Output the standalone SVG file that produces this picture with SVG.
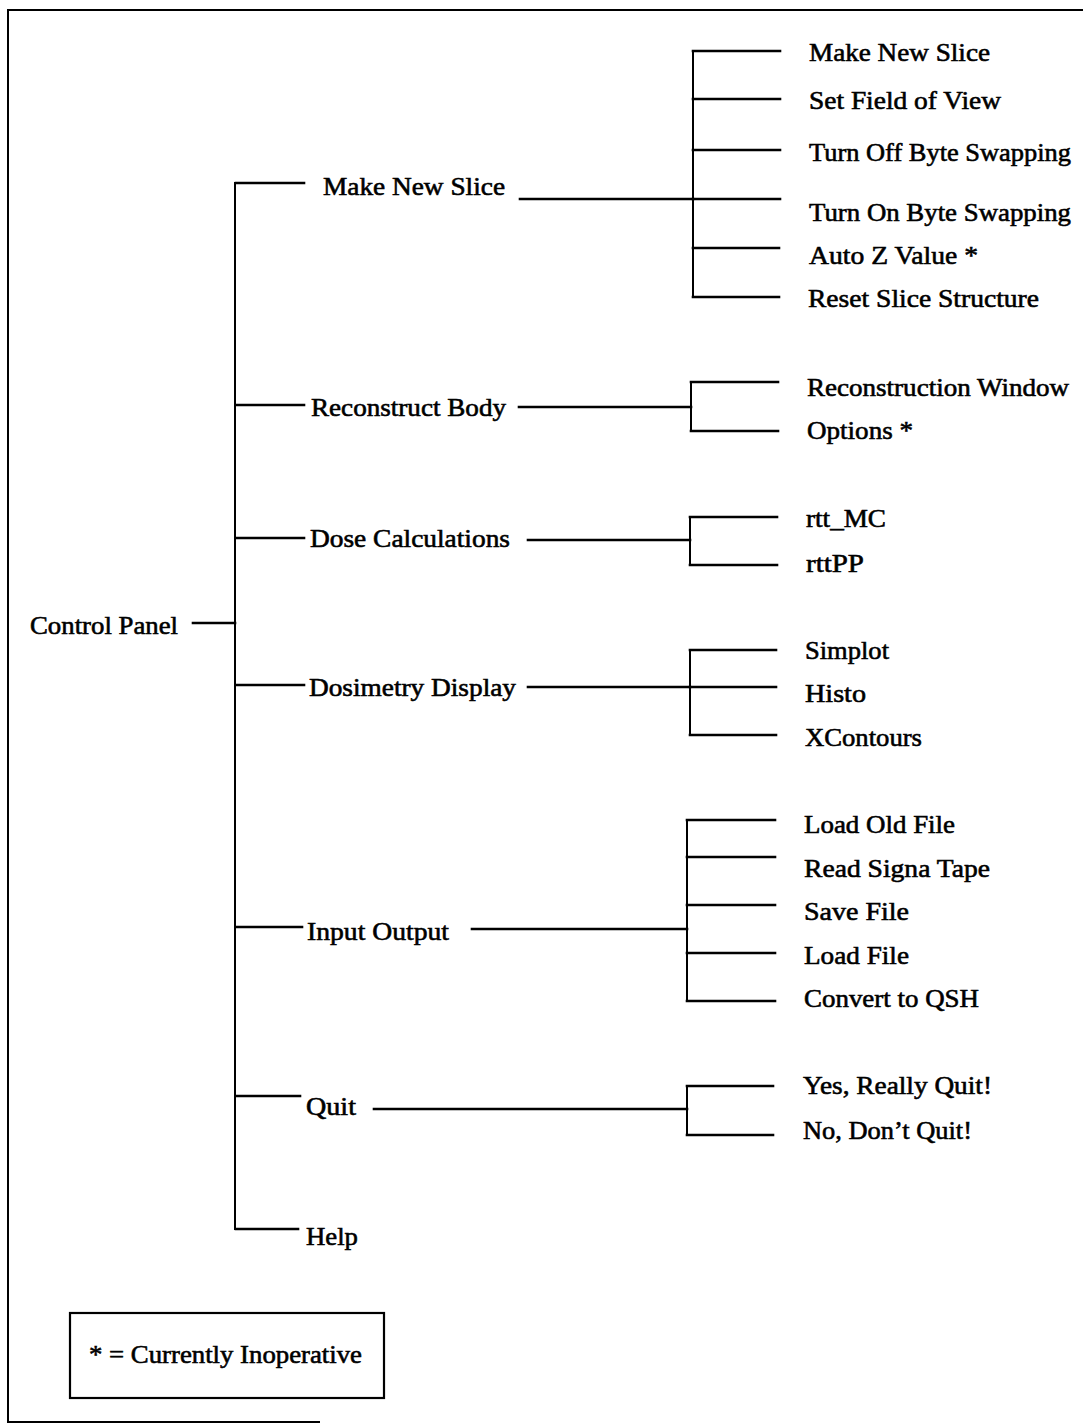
<svg xmlns="http://www.w3.org/2000/svg" width="1083" height="1425" viewBox="0 0 1083 1425">
<style>
  .t { font-family: "Liberation Serif", "Times New Roman", serif; font-size: 26px; fill: #000; stroke: #000; stroke-width: 0.6px; }
  .c line { stroke: #000; stroke-width: 2.6; stroke-linecap: square; }
  .c line.thin { stroke-width: 2; }
  .frame { stroke: #000; stroke-width: 2; fill: none; }
</style>
<rect x="0" y="0" width="1083" height="1425" fill="#fff"/>
<g id="frame">
  <polyline class="frame" points="1083,10 8,10 8,1422 320,1422"/>
</g>
<g id="connectors" class="c">
  <!-- main trunk -->
  <line class="thin" x1="235" y1="183" x2="235" y2="1229"/>
  <line x1="193" y1="623" x2="235" y2="623"/>
  <line x1="236" y1="183" x2="304" y2="183"/>
  <line x1="236" y1="405" x2="304" y2="405"/>
  <line x1="236" y1="538" x2="304" y2="538"/>
  <line x1="236" y1="685" x2="304" y2="685"/>
  <line x1="236" y1="927" x2="302" y2="927"/>
  <line x1="236" y1="1096" x2="300" y2="1096"/>
  <line x1="236" y1="1229" x2="298" y2="1229"/>
  <!-- Make New Slice -->
  <line x1="520" y1="199" x2="693" y2="199"/>
  <line class="thin" x1="693" y1="51" x2="693" y2="297"/>
  <line x1="693" y1="51" x2="780" y2="51"/>
  <line x1="693" y1="99" x2="780" y2="99"/>
  <line x1="693" y1="150" x2="780" y2="150"/>
  <line x1="693" y1="199" x2="780" y2="199"/>
  <line x1="693" y1="248" x2="779" y2="248"/>
  <line x1="693" y1="297" x2="779" y2="297"/>
  <!-- Reconstruct Body -->
  <line x1="519" y1="407" x2="691" y2="407"/>
  <line class="thin" x1="691" y1="382" x2="691" y2="431"/>
  <line x1="691" y1="382" x2="778" y2="382"/>
  <line x1="691" y1="431" x2="778" y2="431"/>
  <!-- Dose Calculations -->
  <line x1="528" y1="540" x2="690" y2="540"/>
  <line class="thin" x1="690" y1="517" x2="690" y2="565"/>
  <line x1="690" y1="517" x2="777" y2="517"/>
  <line x1="690" y1="565" x2="777" y2="565"/>
  <!-- Dosimetry Display -->
  <line x1="528" y1="687" x2="690" y2="687"/>
  <line class="thin" x1="690" y1="650" x2="690" y2="735"/>
  <line x1="690" y1="650" x2="776" y2="650"/>
  <line x1="690" y1="687" x2="776" y2="687"/>
  <line x1="690" y1="735" x2="776" y2="735"/>
  <!-- Input Output -->
  <line x1="472" y1="929" x2="687" y2="929"/>
  <line class="thin" x1="687" y1="820" x2="687" y2="1001"/>
  <line x1="687" y1="820" x2="775" y2="820"/>
  <line x1="687" y1="857" x2="775" y2="857"/>
  <line x1="687" y1="905" x2="775" y2="905"/>
  <line x1="687" y1="953" x2="775" y2="953"/>
  <line x1="687" y1="1001" x2="775" y2="1001"/>
  <!-- Quit -->
  <line x1="374" y1="1109" x2="687" y2="1109"/>
  <line class="thin" x1="687" y1="1086" x2="687" y2="1135"/>
  <line x1="687" y1="1086" x2="773" y2="1086"/>
  <line x1="687" y1="1135" x2="773" y2="1135"/>
</g>
<g id="control-panel"><text class="t" x="30" y="634" textLength="148" lengthAdjust="spacingAndGlyphs">Control Panel</text></g>
<g id="make-new-slice"><text class="t" x="323" y="195" textLength="182" lengthAdjust="spacingAndGlyphs">Make New Slice</text></g>
<g id="reconstruct-body"><text class="t" x="311" y="416" textLength="195" lengthAdjust="spacingAndGlyphs">Reconstruct Body</text></g>
<g id="dose-calculations"><text class="t" x="310" y="547" textLength="200" lengthAdjust="spacingAndGlyphs">Dose Calculations</text></g>
<g id="dosimetry-display"><text class="t" x="309" y="696" textLength="207" lengthAdjust="spacingAndGlyphs">Dosimetry Display</text></g>
<g id="input-output"><text class="t" x="307" y="940" textLength="142" lengthAdjust="spacingAndGlyphs">Input Output</text></g>
<g id="quit"><text class="t" x="306" y="1115" textLength="50" lengthAdjust="spacingAndGlyphs">Quit</text></g>
<g id="help"><text class="t" x="306" y="1245" textLength="52" lengthAdjust="spacingAndGlyphs">Help</text></g>

<g id="mns-make-new-slice"><text class="t" x="809" y="61" textLength="181" lengthAdjust="spacingAndGlyphs">Make New Slice</text></g>
<g id="set-field-of-view"><text class="t" x="809" y="109" textLength="192" lengthAdjust="spacingAndGlyphs">Set Field of View</text></g>
<g id="turn-off-byte-swapping"><text class="t" x="809" y="161" textLength="262" lengthAdjust="spacingAndGlyphs">Turn Off Byte Swapping</text></g>
<g id="turn-on-byte-swapping"><text class="t" x="809" y="221" textLength="262" lengthAdjust="spacingAndGlyphs">Turn On Byte Swapping</text></g>
<g id="auto-z-value"><text class="t" x="809" y="264" textLength="169" lengthAdjust="spacingAndGlyphs">Auto Z Value *</text></g>
<g id="reset-slice-structure"><text class="t" x="808" y="307" textLength="231" lengthAdjust="spacingAndGlyphs">Reset Slice Structure</text></g>

<g id="reconstruction-window"><text class="t" x="807" y="396" textLength="262" lengthAdjust="spacingAndGlyphs">Reconstruction Window</text></g>
<g id="options"><text class="t" x="807" y="439" textLength="106" lengthAdjust="spacingAndGlyphs">Options *</text></g>

<g id="rtt-mc"><text class="t" x="806" y="527" textLength="80" lengthAdjust="spacingAndGlyphs">rtt_MC</text></g>
<g id="rttpp"><text class="t" x="806" y="572" textLength="58" lengthAdjust="spacingAndGlyphs">rttPP</text></g>

<g id="simplot"><text class="t" x="805" y="659" textLength="84" lengthAdjust="spacingAndGlyphs">Simplot</text></g>
<g id="histo"><text class="t" x="805" y="702" textLength="61" lengthAdjust="spacingAndGlyphs">Histo</text></g>
<g id="xcontours"><text class="t" x="805" y="746" textLength="117" lengthAdjust="spacingAndGlyphs">XContours</text></g>

<g id="load-old-file"><text class="t" x="804" y="833" textLength="151" lengthAdjust="spacingAndGlyphs">Load Old File</text></g>
<g id="read-signa-tape"><text class="t" x="804" y="877" textLength="186" lengthAdjust="spacingAndGlyphs">Read Signa Tape</text></g>
<g id="save-file"><text class="t" x="804" y="920" textLength="105" lengthAdjust="spacingAndGlyphs">Save File</text></g>
<g id="load-file"><text class="t" x="804" y="964" textLength="105" lengthAdjust="spacingAndGlyphs">Load File</text></g>
<g id="convert-to-qsh"><text class="t" x="804" y="1007" textLength="175" lengthAdjust="spacingAndGlyphs">Convert to QSH</text></g>

<g id="yes-really-quit"><text class="t" x="803" y="1094" textLength="189" lengthAdjust="spacingAndGlyphs">Yes, Really Quit!</text></g>
<g id="no-dont-quit"><text class="t" x="803" y="1139" textLength="169" lengthAdjust="spacingAndGlyphs">No, Don’t Quit!</text></g>

<g id="legend">
  <rect x="70" y="1313" width="314" height="85" fill="none" stroke="#000" stroke-width="2.2"/>
  <text class="t" x="89" y="1363" textLength="273" lengthAdjust="spacingAndGlyphs">* = Currently Inoperative</text>
</g>
</svg>
